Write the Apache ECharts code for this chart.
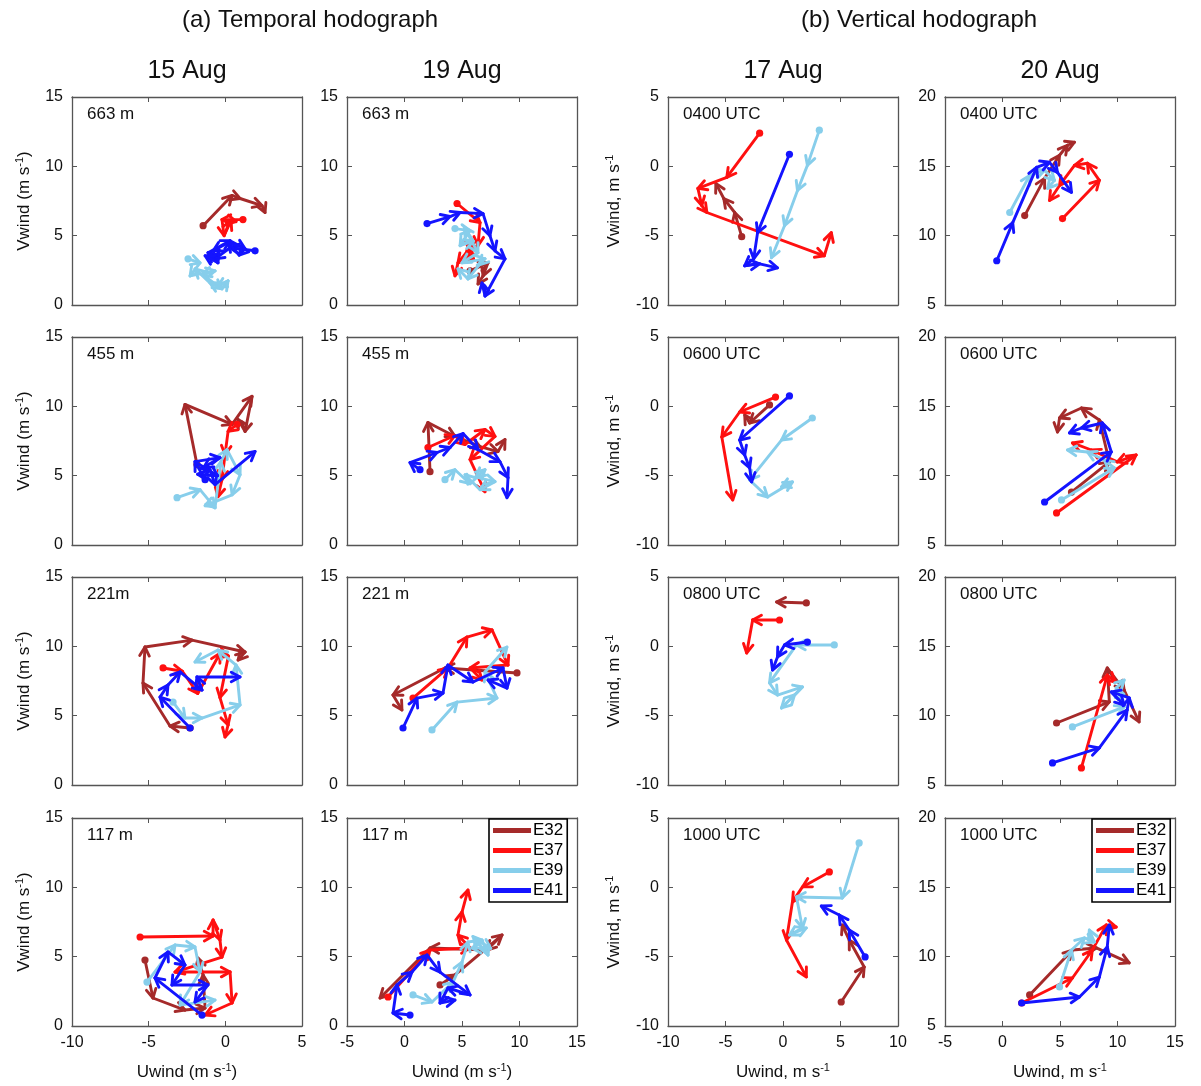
<!DOCTYPE html>
<html>
<head>
<meta charset="utf-8">
<title>Temporal and vertical hodographs</title>
<script src="https://cdn.jsdelivr.net/npm/echarts@6/dist/echarts.min.js"></script>
<style>
  html, body { margin: 0; padding: 0; background: #fff; }
  #chart { width: 1201px; height: 1086px; }
</style>
</head>
<body>
<div id="chart"></div>
<script>
// Stations plotted in every panel (drawing order: E32 first, E41 on top)
const stations = ['E32', 'E37', 'E39', 'E41'];

// Wind vectors [Uwind, Vwind] in m/s, each list traced in time / height order

// (a) Temporal hodograph, 15 Aug
const aug15_663m = {
  E32: [[-1.45, 5.72], [0.44, 7.9], [0.96, 7.68], [2.39, 7.17], [2.59, 6.67]],
  E37: [[1.15, 6.16], [-0.22, 6.16], [-0.08, 5.0], [0.37, 6.09], [0.70, 6.01]],
  E39: [[-2.43, 3.33], [-1.65, 3.04], [-2.30, 2.10], [-0.67, 2.46], [-1.5, 2.2], [-0.22, 1.16], [0.18, 1.74], [-0.5, 1.3], [-1.0, 1.59], [-1.98, 2.61]],
  E41: [[1.94, 3.91], [0.31, 4.13], [-0.67, 3.33], [-1.13, 3.77], [0.31, 4.64], [1.29, 4.06], [0.9, 3.6], [0.2, 4.5], [-0.8, 3.9], [-0.48, 3.04], [-1.32, 3.55]]
};
const aug15_455m = {
  E32: [[-1.85, 5.80], [-2.63, 10.14], [0.44, 8.70], [1.74, 10.72], [1.29, 8.19], [0.83, 9.06]],
  E37: [[0.76, 8.70], [0.18, 8.19], [-0.02, 6.52], [-0.22, 4.71], [-0.48, 3.48]],
  E39: [[-3.15, 3.41], [-1.65, 3.99], [-0.67, 2.68], [-0.3, 6.0], [0.11, 6.88], [0.96, 5.07], [0.44, 3.62], [-1.32, 2.83]],
  E41: [[-1.32, 4.71], [-1.98, 6.01], [-0.35, 6.30], [-1.4, 5.6], [-0.5, 5.0], [-1.8, 5.1], [-1.0, 5.43], [-0.67, 4.35], [1.94, 6.74]]
};
const aug15_221m = {
  E32: [[-2.30, 4.11], [-3.61, 4.25], [-5.37, 7.35], [-5.24, 9.95], [-2.17, 10.45], [1.29, 9.59], [0.83, 9.01]],
  E37: [[-4.06, 8.44], [-2.8, 8.2], [-1.8, 6.6], [-0.35, 9.5], [0.2, 9.3], [-0.35, 6.3], [0.18, 4.33], [-0.02, 3.46]],
  E39: [[-3.41, 5.98], [-2.63, 4.83], [-1.52, 4.83], [0.96, 5.77], [0.70, 8.65], [-0.48, 9.73], [-1.98, 8.87]],
  E41: [[-2.30, 4.11], [-4.26, 6.34], [-3.74, 7.21], [-2.95, 8.15], [-1.52, 6.85], [-1.85, 7.79], [0.96, 7.79]]
};
const aug15_117m = {
  E32: [[-5.24, 4.76], [-4.72, 2.02], [-2.63, 1.15], [-1.32, 1.30], [-1.45, 3.68], [-1.78, 4.90]],
  E37: [[-5.56, 6.42], [-0.80, 6.49], [-0.80, 7.64], [-0.35, 6.20], [-0.22, 4.97], [-3.28, 3.89], [0.31, 3.89], [0.44, 1.66], [-1.32, 0.79]],
  E39: [[-5.11, 3.17], [-3.28, 5.84], [-1.98, 5.70], [-1.65, 3.89], [-2.95, 1.51], [-0.67, 1.87]],
  E41: [[-1.52, 0.79], [-4.59, 3.46], [-3.74, 5.34], [-2.63, 4.40], [-3.48, 2.96], [-1.13, 2.96], [-1.98, 1.73]]
};

// (a) Temporal hodograph, 19 Aug
const aug19_663m = {
  E32: [[5.70, 2.46], [7.26, 3.04], [6.83, 2.10], [6.39, 1.52]],
  E37: [[4.57, 7.32], [6.57, 5.94], [6.39, 4.28], [5.26, 3.55], [6.0, 3.3], [5.70, 4.64], [5.6, 4.0], [4.65, 3.04], [4.39, 2.10]],
  E39: [[4.39, 5.51], [5.70, 5.36], [4.83, 4.28], [6.0, 4.6], [5.2, 5.6], [6.39, 3.77], [5.0, 3.04], [7.0, 3.33], [6.5, 2.9], [5.52, 1.88], [4.65, 2.61]],
  E41: [[1.96, 5.87], [3.96, 6.38], [4.83, 6.67], [6.83, 6.59], [7.43, 5.0], [7.87, 3.91], [8.74, 3.33], [7.0, 0.65], [6.74, 1.59]]
};
const aug19_455m = {
  E32: [[2.22, 5.29], [2.04, 8.84], [4.39, 7.83], [6.57, 7.10], [8.13, 6.74], [8.74, 7.61]],
  E37: [[2.04, 7.03], [4.39, 7.90], [5.26, 7.25], [7.0, 8.33], [7.87, 7.83], [5.70, 6.16], [7.0, 3.84]],
  E39: [[3.52, 4.71], [4.39, 5.43], [5.70, 4.42], [7.0, 5.43], [6.2, 4.9], [7.87, 4.57], [6.57, 3.99], [5.26, 5.07]],
  E41: [[1.35, 5.43], [0.48, 5.94], [2.83, 6.67], [3.96, 7.03], [5.09, 8.04], [6.39, 6.88], [8.30, 6.01], [9.0, 4.86], [8.91, 3.41]]
};
const aug19_221m = {
  E32: [[9.78, 8.08], [3.52, 8.44], [-1.0, 6.49], [-0.22, 5.41]],
  E37: [[0.74, 6.27], [3.78, 8.44], [5.43, 10.67], [7.61, 11.18], [9.0, 8.65], [5.70, 8.44], [6.74, 7.57]],
  E39: [[2.39, 3.97], [4.57, 5.98], [8.04, 6.27], [7.0, 8.15], [8.91, 9.95]],
  E41: [[-0.13, 4.11], [1.09, 6.27], [3.35, 6.63], [3.78, 8.65], [5.96, 7.43], [8.57, 8.44], [8.91, 6.99], [7.26, 7.57]]
};
const aug19_117m = {
  E32: [[3.09, 2.96], [4.39, 3.68], [8.48, 6.56], [7.17, 5.48], [2.22, 5.62], [-2.13, 2.02]],
  E37: [[-1.43, 2.09], [2.22, 5.48], [5.70, 5.62], [4.65, 6.56], [5.0, 8.22], [5.52, 9.81]],
  E39: [[0.74, 2.24], [2.39, 1.73], [4.22, 3.17], [5.0, 4.61], [5.52, 6.06], [6.74, 6.20], [7.26, 5.12], [6.0, 6.4], [7.5, 5.6], [5.87, 5.62]],
  E41: [[0.48, 0.79], [-1.0, 0.94], [-0.65, 2.96], [0.65, 3.89], [1.96, 5.12], [3.09, 3.89], [5.70, 2.24], [3.78, 2.74], [3.09, 1.66], [4.39, 1.87]]
};

// (b) Vertical hodograph, 17 Aug
const aug17_0400 = {
  E32: [[-3.59, -5.07], [-4.20, -3.33], [-5.15, -2.32], [-5.84, -1.23]],
  E37: [[-2.03, 2.39], [-4.89, -0.80], [-7.40, -1.59], [-7.06, -2.83], [-6.62, -3.33], [3.59, -6.45], [4.20, -4.78]],
  E39: [[3.16, 2.61], [2.12, 0.07], [1.26, -1.74], [0.13, -4.28], [-1.0, -6.59]],
  E41: [[0.56, 0.87], [-2.21, -4.78], [-2.55, -6.67], [-3.33, -7.17], [-2.03, -7.03], [-0.48, -7.32]]
};
const aug17_0600 = {
  E32: [[-1.17, 0.10], [-2.90, -1.20], [-3.33, -0.62]],
  E37: [[-0.65, 0.67], [-3.77, -0.41], [-5.32, -2.21], [-4.37, -6.75]],
  E39: [[2.55, -0.84], [-0.13, -2.43], [-2.90, -5.31], [-1.34, -6.54], [0.82, -5.45], [-0.13, -5.81]],
  E41: [[0.56, 0.75], [-3.77, -2.43], [-3.33, -3.51], [-2.90, -4.44], [-2.73, -5.45]]
};
const aug17_0800 = {
  E32: [[2.03, 3.13], [-0.56, 3.20]],
  E37: [[-0.30, 1.90], [-2.64, 1.90], [-3.16, -0.48]],
  E39: [[4.46, 0.10], [1.17, 0.10], [-1.17, -2.64], [-0.48, -3.51], [1.69, -2.93], [-0.13, -4.44], [1.0, -3.51]],
  E41: [[2.12, 0.31], [0.13, 0.10], [-0.48, -0.77], [-0.91, -1.71]]
};
const aug17_1000 = {
  E32: [[5.06, -8.27], [7.06, -5.74], [5.76, -3.80], [5.15, -2.71]],
  E37: [[4.03, 1.11], [1.69, 0.03], [0.82, -1.06], [0.30, -3.80], [2.03, -6.46]],
  E39: [[6.62, 3.20], [5.15, -0.77], [1.17, -0.70], [1.69, -2.93], [0.56, -3.44], [2.03, -2.93]],
  E41: [[7.14, -5.02], [5.76, -3.08], [4.89, -1.99], [3.33, -1.35]]
};

// (b) Vertical hodograph, 20 Aug
const aug20_0400 = {
  E32: [[1.93, 11.45], [3.66, 14.13], [4.96, 15.80], [5.65, 16.52], [6.26, 16.74]],
  E37: [[5.22, 11.23], [8.42, 13.99], [7.38, 15.22], [6.26, 15.07], [4.96, 13.62], [4.09, 12.54]],
  E39: [[0.63, 11.67], [2.36, 14.35], [3.66, 14.71], [4.52, 13.99], [3.92, 13.41]],
  E41: [[-0.50, 8.19], [0.89, 10.94], [2.97, 14.93], [4.09, 15.29], [4.78, 14.57], [6.0, 13.12]]
};
const aug20_0600 = {
  E32: [[6.0, 8.82], [9.29, 10.99], [8.42, 14.02], [6.86, 14.88], [4.96, 14.16], [4.78, 13.15]],
  E37: [[4.70, 7.31], [11.62, 11.49], [9.98, 10.99], [7.73, 11.85], [6.08, 12.36]],
  E39: [[5.13, 8.25], [9.72, 10.56], [8.85, 11.13], [7.38, 11.71], [5.65, 11.85]],
  E41: [[3.66, 8.10], [9.46, 11.71], [8.68, 13.80], [6.86, 13.44], [5.82, 13.08]]
};
const aug20_0800 = {
  E32: [[4.70, 9.47], [9.29, 10.99], [9.11, 13.44], [10.58, 11.85], [11.88, 9.55]],
  E37: [[6.86, 6.23], [9.11, 12.93], [9.81, 12.43]],
  E39: [[6.08, 9.19], [10.58, 10.63], [9.89, 12.0], [10.58, 12.57]],
  E41: [[4.35, 6.59], [8.42, 7.67], [10.84, 10.41], [11.02, 11.28], [9.46, 11.71], [10.58, 10.77]]
};
const aug20_1000 = {
  E32: [[2.36, 7.24], [6.08, 10.48], [8.16, 10.63], [11.02, 9.55]],
  E37: [[1.67, 6.66], [6.08, 8.46], [7.81, 10.48], [9.03, 12.29], [9.89, 12.14]],
  E39: [[4.96, 7.82], [6.0, 10.48], [7.12, 11.35], [7.99, 11.06], [7.55, 11.92]],
  E41: [[1.67, 6.66], [6.69, 7.09], [8.42, 8.53], [9.11, 10.70], [9.29, 12.29]]
};

// Axis ranges per column: [min, max] for Uwind and Vwind
const uRange = [[-10, 5], [-5, 15], [-10, 10], [-5, 15]];
const vRange = [[0, 15], [0, 15], [-10, 5], [5, 20]];
const uTitles = ['Uwind (m s{sup|-1})', 'Uwind (m s{sup|-1})', 'Uwind, m s{sup|-1}', 'Uwind, m s{sup|-1}'];
const vTitles = ['Vwind (m s{sup|-1})', '', 'Vwind, m s{sup|-1}', ''];
const columnDates = ['15 Aug', '19 Aug', '17 Aug', '20 Aug'];
const groupTitles = ['(a) Temporal hodograph', '(b) Vertical hodograph'];

// Panels: grid of 4 rows x 4 columns
const panels = [
  { row: 0, col: 0, tag: '663 m', data: aug15_663m },
  { row: 0, col: 1, tag: '663 m', data: aug19_663m },
  { row: 0, col: 2, tag: '0400 UTC', data: aug17_0400 },
  { row: 0, col: 3, tag: '0400 UTC', data: aug20_0400 },
  { row: 1, col: 0, tag: '455 m', data: aug15_455m },
  { row: 1, col: 1, tag: '455 m', data: aug19_455m },
  { row: 1, col: 2, tag: '0600 UTC', data: aug17_0600 },
  { row: 1, col: 3, tag: '0600 UTC', data: aug20_0600 },
  { row: 2, col: 0, tag: '221m', data: aug15_221m },
  { row: 2, col: 1, tag: '221 m', data: aug19_221m },
  { row: 2, col: 2, tag: '0800 UTC', data: aug17_0800 },
  { row: 2, col: 3, tag: '0800 UTC', data: aug20_0800 },
  { row: 3, col: 0, tag: '117 m', data: aug15_117m },
  { row: 3, col: 1, tag: '117 m', data: aug19_117m },
  { row: 3, col: 2, tag: '1000 UTC', data: aug17_1000 },
  { row: 3, col: 3, tag: '1000 UTC', data: aug20_1000 }
];

// ---------- layout & style ----------
const FONT = '"Liberation Sans", Arial, Helvetica, sans-serif';
const stationColors = { E32: '#a52a2a', E37: '#ff1010', E39: '#87ceeb', E41: '#1414ff' };
const colLeft = [72, 347, 668, 945];
const rowTop = [97, 337, 577, 818];
const gridW = 230, gridH = 208;
const frameColor = '#555';
const supRich = {
  sup: { fontSize: 11, fontFamily: FONT, color: '#111', verticalAlign: 'top', padding: [0, 0, 9, 0] }
};

// Arrow segment: shaft plus open V head at the far end; a dot marks the first point
function renderArrow(params, api) {
  const p0 = api.coord([api.value(0), api.value(1)]);
  const p1 = api.coord([api.value(2), api.value(3)]);
  const color = api.visual('color');
  const dx = p1[0] - p0[0], dy = p1[1] - p0[1];
  const len = Math.hypot(dx, dy) || 1;
  const bx = -dx / len, by = -dy / len;
  const head = 10, a = 0.5;
  const ca = Math.cos(a), sa = Math.sin(a);
  const w1 = [p1[0] + head * (bx * ca - by * sa), p1[1] + head * (bx * sa + by * ca)];
  const w2 = [p1[0] + head * (bx * ca + by * sa), p1[1] + head * (-bx * sa + by * ca)];
  const stroke = { stroke: color, lineWidth: 2.9, lineCap: 'round', lineJoin: 'round', fill: null };
  const children = [
    { type: 'line', shape: { x1: p0[0], y1: p0[1], x2: p1[0], y2: p1[1] }, style: stroke },
    { type: 'polyline', shape: { points: [w1, p1, w2] }, style: stroke }
  ];
  if (api.value(4) === 1) {
    children.push({ type: 'circle', shape: { cx: p0[0], cy: p0[1], r: 3.6 }, style: { fill: color } });
  }
  return { type: 'group', children };
}

const grids = [], xAxes = [], yAxes = [], series = [], graphics = [];

panels.forEach((p, i) => {
  const left = colLeft[p.col], top = rowTop[p.row];
  grids.push({ left, top, width: gridW, height: gridH, containLabel: false });
  const bottomRow = p.row === 3;
  const tickStyle = { show: true, inside: true, length: 5, lineStyle: { color: frameColor, width: 1 } };
  const lineStyle = { show: true, onZero: false, lineStyle: { color: frameColor, width: 1.3 } };
  // bottom / top U axes
  xAxes.push({
    type: 'value', gridIndex: i, position: 'bottom',
    min: uRange[p.col][0], max: uRange[p.col][1], interval: 5,
    axisLine: lineStyle, axisTick: tickStyle, splitLine: { show: false },
    axisLabel: { show: bottomRow, fontSize: 16, fontFamily: FONT, color: '#111', margin: 9 },
    name: bottomRow ? uTitles[p.col] : '', nameLocation: 'middle', nameGap: 36,
    nameTextStyle: { fontSize: 17, fontFamily: FONT, color: '#111', rich: supRich }
  });
  xAxes.push({
    type: 'value', gridIndex: i, position: 'top',
    min: uRange[p.col][0], max: uRange[p.col][1], interval: 5,
    axisLine: lineStyle, axisTick: tickStyle, splitLine: { show: false }, axisLabel: { show: false }
  });
  // left / right V axes
  yAxes.push({
    type: 'value', gridIndex: i, position: 'left',
    min: vRange[p.col][0], max: vRange[p.col][1], interval: 5,
    axisLine: lineStyle, axisTick: tickStyle, splitLine: { show: false },
    axisLabel: { show: true, fontSize: 16, fontFamily: FONT, color: '#111', margin: 9 },
    name: vTitles[p.col], nameLocation: 'middle', nameRotate: 90,
    nameGap: p.col === 2 ? 44 : 38,
    nameTextStyle: { fontSize: 17, fontFamily: FONT, color: '#111', rich: supRich }
  });
  yAxes.push({
    type: 'value', gridIndex: i, position: 'right',
    min: vRange[p.col][0], max: vRange[p.col][1], interval: 5,
    axisLine: lineStyle, axisTick: tickStyle, splitLine: { show: false }, axisLabel: { show: false }
  });

  stations.forEach(st => {
    const pts = p.data[st];
    const segs = [];
    for (let k = 0; k < pts.length - 1; k++) {
      segs.push([pts[k][0], pts[k][1], pts[k + 1][0], pts[k + 1][1], k === 0 ? 1 : 0]);
    }
    series.push({
      type: 'custom', name: st,
      xAxisIndex: 2 * i, yAxisIndex: 2 * i,
      itemStyle: { color: stationColors[st] },
      encode: { x: [0, 2], y: [1, 3] },
      renderItem: renderArrow,
      data: segs, silent: true, animation: false
    });
  });

  // panel tag (height / time)
  graphics.push({
    type: 'text', left: left + 15, top: top + 9,
    style: { text: p.tag, font: '17px ' + FONT, fill: '#111' }, z: 10
  });
});

// Column dates and group titles
columnDates.forEach((d, c) => {
  graphics.push({
    type: 'text',
    style: { text: d, x: colLeft[c] + gridW / 2, y: 71, textAlign: 'center', textVerticalAlign: 'middle', font: '25px ' + FONT, fill: '#111' }
  });
});
graphics.push({
  type: 'text',
  style: { text: groupTitles[0], x: 310, y: 20, textAlign: 'center', textVerticalAlign: 'middle', font: '24px ' + FONT, fill: '#111' }
});
graphics.push({
  type: 'text',
  style: { text: groupTitles[1], x: 919, y: 20, textAlign: 'center', textVerticalAlign: 'middle', font: '24px ' + FONT, fill: '#111' }
});

const legendBase = {
  orient: 'vertical', top: 819, data: stations, icon: 'rect',
  itemWidth: 38, itemHeight: 5, itemGap: 3, selectedMode: false,
  textStyle: { fontSize: 17, fontFamily: FONT, color: '#000', padding: [0, 0, 0, -3] },
  borderColor: '#000', borderWidth: 1.6, borderRadius: 0, padding: [3, 4, 3, 4],
  backgroundColor: '#fff', z: 20
};

const chart = echarts.init(document.getElementById('chart'), null, { renderer: 'canvas' });
chart.setOption({
  backgroundColor: '#fff',
  animation: false,
  grid: grids,
  xAxis: xAxes,
  yAxis: yAxes,
  legend: [
    Object.assign({}, legendBase, { left: 489 }),
    Object.assign({}, legendBase, { left: 1092 })
  ],
  graphic: graphics,
  series: series
});
</script>
</body>
</html>
